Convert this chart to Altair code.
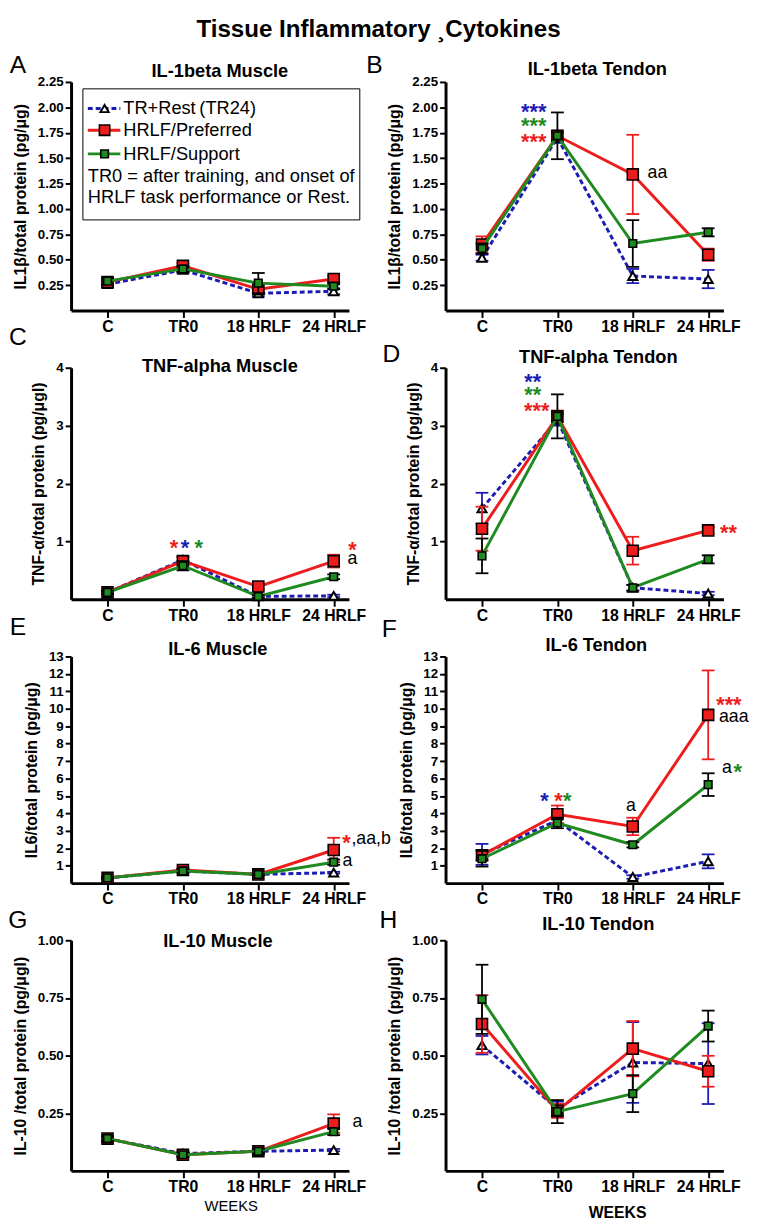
import altair as alt
import pandas as pd

TIMES = ["C", "TR0", "18 HRLF", "24 HRLF"]
SERIES = ["TR+Rest\u2009(TR24)", "HRLF/Preferred", "HRLF/Support"]
KEYS = ["tr24", "pref", "supp"]

# ---- A: IL-1beta Muscle
A_TR24 = [0.26, 0.40, 0.17, 0.19]
A_TR24_SEM = [0.03, 0.03, 0.03, 0.03]
A_PREF = [0.28, 0.44, 0.21, 0.31]
A_PREF_SEM = [0.03, 0.03, 0.04, 0.03]
A_SUPP = [0.29, 0.41, 0.27, 0.24]
A_SUPP_SEM = [0.03, 0.03, 0.10, 0.03]

# ---- B: IL-1beta Tendon
B_TR24 = [0.52, 1.70, 0.34, 0.31]
B_TR24_SEM = [0.03, 0.05, 0.07, 0.09]
B_PREF = [0.65, 1.72, 1.34, 0.55]
B_PREF_SEM = [0.08, 0.05, 0.39, 0.06]
B_SUPP = [0.61, 1.72, 0.66, 0.77]
B_SUPP_SEM = [0.05, 0.23, 0.23, 0.04]

# ---- C: TNF-alpha Muscle
C_TR24 = [0.12, 0.68, 0.05, 0.06]
C_TR24_SEM = [0.02, 0.05, 0.02, 0.02]
C_PREF = [0.12, 0.66, 0.22, 0.66]
C_PREF_SEM = [0.03, 0.07, 0.05, 0.11]
C_SUPP = [0.12, 0.58, 0.05, 0.39]
C_SUPP_SEM = [0.03, 0.08, 0.02, 0.04]

# ---- D: TNF-alpha Tendon
D_TR24 = [1.57, 3.10, 0.20, 0.10]
D_TR24_SEM = [0.27, 0.10, 0.05, 0.03]
D_PREF = [1.22, 3.16, 0.84, 1.19]
D_PREF_SEM = [0.38, 0.10, 0.24, 0.06]
D_SUPP = [0.75, 3.16, 0.20, 0.69]
D_SUPP_SEM = [0.30, 0.38, 0.05, 0.07]

# ---- E: IL-6 Muscle
E_TR24 = [0.30, 0.70, 0.50, 0.60]
E_TR24_SEM = [0.05, 0.05, 0.05, 0.05]
E_PREF = [0.30, 0.75, 0.50, 1.90]
E_PREF_SEM = [0.05, 0.10, 0.05, 0.70]
E_SUPP = [0.30, 0.70, 0.50, 1.20]
E_SUPP_SEM = [0.05, 0.10, 0.05, 0.15]

# ---- F: IL-6 Tendon
F_TR24 = [1.65, 3.60, 0.35, 1.25]
F_TR24_SEM = [0.60, 0.30, 0.10, 0.40]
F_PREF = [1.60, 3.95, 3.25, 9.65]
F_PREF_SEM = [0.30, 0.50, 0.50, 2.55]
F_SUPP = [1.40, 3.45, 2.20, 5.65]
F_SUPP_SEM = [0.45, 0.30, 0.15, 0.65]

# ---- G: IL-10 Muscle
G_TR24 = [0.14, 0.075, 0.085, 0.09]
G_TR24_SEM = [0.01, 0.01, 0.01, 0.005]
G_PREF = [0.14, 0.07, 0.085, 0.205]
G_PREF_SEM = [0.01, 0.01, 0.01, 0.04]
G_SUPP = [0.14, 0.07, 0.085, 0.17]
G_SUPP_SEM = [0.01, 0.01, 0.01, 0.015]

# ---- H: IL-10 Tendon
H_TR24 = [0.545, 0.27, 0.47, 0.465]
H_TR24_SEM = [0.04, 0.03, 0.175, 0.175]
H_PREF = [0.637, 0.26, 0.53, 0.432]
H_PREF_SEM = [0.125, 0.03, 0.12, 0.067]
H_SUPP = [0.744, 0.257, 0.335, 0.628]
H_SUPP_SEM = [0.15, 0.05, 0.08, 0.067]

# significance annotations: (time, value, text, colour key)
B_NOTES = [("TR0", 2.00, "***", "tr24"), ("TR0", 1.86, "***", "supp"),
           ("TR0", 1.71, "***", "pref"), ("18 HRLF", 1.35, "aa", "k")]
C_NOTES = [("TR0", 0.97, "*", "pref"), ("TR0", 0.97, "*", "tr24"),
           ("TR0", 0.97, "*", "supp"), ("24 HRLF", 0.94, "*", "pref"),
           ("24 HRLF", 0.70, "a", "k")]
D_NOTES = [("TR0", 3.84, "**", "tr24"), ("TR0", 3.61, "**", "supp"),
           ("TR0", 3.33, "***", "pref"), ("24 HRLF", 1.23, "**", "pref")]
E_NOTES = [("24 HRLF", 2.55, "*", "pref"), ("24 HRLF", 2.50, ",aa,b", "k"),
           ("24 HRLF", 1.25, "a", "k")]
F_NOTES = [("TR0", 5.0, "*", "tr24"), ("TR0", 5.0, "*", "pref"),
           ("TR0", 5.0, "*", "supp"), ("18 HRLF", 4.4, "a", "k"),
           ("24 HRLF", 10.5, "***", "pref"), ("24 HRLF", 9.55, "aaa", "k"),
           ("24 HRLF", 6.6, "a", "k"), ("24 HRLF", 6.65, "*", "supp")]
G_NOTES = [("24 HRLF", 0.21, "a", "k")]
H_NOTES = []

# pixel offsets / alignment of the annotations (style, kept apart from data)
B_NOTE_POS = [(-24, "center"), (-24, "center"), (-24, "center"), (15, "left")]
C_NOTE_POS = [(-9, "center"), (2, "center"), (16, "center"), (19, "center"), (14, "left")]
D_NOTE_POS = [(-25, "center"), (-25, "center"), (-21, "center"), (12, "left")]
E_NOTE_POS = [(13, "center"), (18, "left"), (9, "left")]
F_NOTE_POS = [(-13, "center"), (1, "center"), (10, "center"), (-2, "center"),
              (21, "center"), (11, "left"), (14, "left"), (30, "center")]
G_NOTE_POS = [(19, "left")]
H_NOTE_POS = []

FONT = "Liberation Sans"
BLUE = "#1c1cb4"
RED = "#ee1d1d"
GREEN = "#1f8a1f"
LINE_COLOR = {"tr24": BLUE, "pref": RED, "supp": GREEN}
ERR_COLOR = {"tr24": BLUE, "pref": RED, "supp": "black"}
NOTE_COLOR = {"tr24": BLUE, "pref": RED, "supp": GREEN, "k": "black"}

PANEL_W = 282


def text_layer(txt, x, y, **kw):
    return alt.Chart(pd.DataFrame({"txt": [txt]})).mark_text(font=FONT, **kw).encode(
        x=alt.value(x), y=alt.value(y), text="txt:N")


def make_panel(letter, title, ytitle, ymax, ticks, fmt, height, data, notes, note_pos,
               title_xy, letter_xy, xtitle=None, legend=False, main_title=False):
    rows = []
    for key, name, (means, sems) in zip(KEYS, SERIES, data):
        for t, m, s in zip(TIMES, means, sems):
            rows.append({"key": key, "series": name, "time": t, "mean": m,
                         "lo": max(m - s, 0), "hi": m + s})
    df = pd.DataFrame(rows)

    xscale = alt.Scale(type="point", padding=0.343, align=0.705)
    if xtitle:
        xaxis = alt.Axis(title=xtitle[0], titleX=xtitle[1], titleY=xtitle[2],
                         titleBaseline="middle", titleFontWeight=xtitle[3],
                         titleFontSize=xtitle[4], titleAngle=0)
    else:
        xaxis = alt.Axis(title=None)
    yscale = alt.Scale(domain=[0, ymax], nice=False, zero=True)
    yaxis = alt.Axis(values=ticks, format=fmt, labelFlush=False)

    def X():
        return alt.X("time:N", sort=TIMES, scale=xscale, axis=xaxis)

    def Y(field):
        return alt.Y(f"{field}:Q", scale=yscale, axis=yaxis, title=ytitle)

    layers = []
    for key in KEYS:
        sdf = df[df.key == key]
        lc = LINE_COLOR[key]
        ec = ERR_COLOR[key]
        if key == "tr24":
            line = alt.Chart(sdf).mark_line(color=lc, strokeWidth=3, strokeDash=[5, 3])
        else:
            line = alt.Chart(sdf).mark_line(color=lc, strokeWidth=3)
        layers.append(line.encode(x=X(), y=Y("mean")))
        layers.append(alt.Chart(sdf).mark_rule(color=ec, strokeWidth=1.8).encode(
            x=X(), y=Y("lo"), y2="hi:Q"))
        for f in ["lo", "hi"]:
            layers.append(alt.Chart(sdf).mark_tick(color=ec, thickness=1.8, size=13,
                                                   opacity=1).encode(x=X(), y=Y(f)))
        if key == "tr24":
            pt = alt.Chart(sdf).mark_point(shape="triangle-up", filled=True, fill="white",
                                           stroke="black", strokeWidth=2, size=85, opacity=1)
        elif key == "pref":
            pt = alt.Chart(sdf).mark_point(shape="square", filled=True, fill=RED,
                                           stroke="black", strokeWidth=1.6, size=125, opacity=1)
        else:
            pt = alt.Chart(sdf).mark_point(shape="square", filled=True, fill=GREEN,
                                           stroke="black", strokeWidth=1.6, size=60, opacity=1)
        layers.append(pt.encode(x=X(), y=Y("mean")))

    for (t, v, s, ck), (dx, al) in zip(notes, note_pos):
        star = "*" in s
        fs = 22 if star else 18
        dy = 12 if star else 5
        ndf = pd.DataFrame({"time": [t], "val": [v], "txt": [s]})
        layers.append(alt.Chart(ndf).mark_text(
            font=FONT, fontSize=fs, fontWeight="bold" if star else "normal",
            color=NOTE_COLOR[ck], dx=dx, dy=dy, align=al, baseline="alphabetic").encode(
            x=X(), y=Y("val"), text="txt:N"))

    # panel title and letter
    layers.append(text_layer(title, title_xy[0], title_xy[1], fontSize=18.5,
                             fontWeight="bold", align="center", baseline="middle"))
    layers.append(text_layer(letter, letter_xy[0], letter_xy[1], fontSize=25,
                             align="center", baseline="middle"))

    if main_title:
        layers.append(text_layer("Tissue Inflammatory \u00b8Cytokines", 312, -53,
                                 fontSize=24.5, fontWeight="bold", align="center",
                                 baseline="middle"))

    if legend:
        layers.append(alt.Chart(pd.DataFrame({"a": [0]})).mark_rect(
            fill="white", stroke="black", strokeWidth=1).encode(
            x=alt.value(12), x2=alt.value(293), y=alt.value(7), y2=alt.value(140)))
        row_y = [27, 49, 73]
        for key, name, ry in zip(KEYS, SERIES, row_y):
            lc = LINE_COLOR[key]
            one = pd.DataFrame({"txt": [name]})
            if key == "tr24":
                seg = alt.Chart(one).mark_rule(color=lc, strokeWidth=3, strokeDash=[5, 3])
                mk = alt.Chart(one).mark_point(shape="triangle-up", filled=True, fill="white",
                                               stroke="black", strokeWidth=2, size=70, opacity=1)
            elif key == "pref":
                seg = alt.Chart(one).mark_rule(color=lc, strokeWidth=3)
                mk = alt.Chart(one).mark_point(shape="square", filled=True, fill=RED,
                                               stroke="black", strokeWidth=1.6, size=110, opacity=1)
            else:
                seg = alt.Chart(one).mark_rule(color=lc, strokeWidth=3)
                mk = alt.Chart(one).mark_point(shape="square", filled=True, fill=GREEN,
                                               stroke="black", strokeWidth=1.6, size=60, opacity=1)
            layers.append(seg.encode(x=alt.value(17), x2=alt.value(50), y=alt.value(ry)))
            layers.append(mk.encode(x=alt.value(34), y=alt.value(ry)))
            layers.append(alt.Chart(one).mark_text(font=FONT, fontSize=18.5, align="left",
                                                   baseline="middle").encode(
                x=alt.value(53), y=alt.value(ry), text="txt:N"))
        layers.append(text_layer("TR0 = after training, and onset of", 17, 96,
                                 fontSize=18.5, align="left", baseline="middle"))
        layers.append(text_layer("HRLF task performance or Rest.", 17, 117,
                                 fontSize=18.5, align="left", baseline="middle"))

    return alt.layer(*layers).properties(width=PANEL_W, height=height)


T2 = [0.25, 0.5, 0.75, 1.0, 1.25, 1.5, 1.75, 2.0, 2.25]
T4 = [1, 2, 3, 4]
T13 = list(range(1, 14))
T1 = [0.25, 0.5, 0.75, 1.0]

pA = make_panel("A", "IL-1beta Muscle", "IL1\u03b2/total protein (pg/\u03bcg)", 2.25, T2, ".2f", 232,
                [(A_TR24, A_TR24_SEM), (A_PREF, A_PREF_SEM), (A_SUPP, A_SUPP_SEM)],
                [], [], (151, -11), (-54, -17), legend=True, main_title=True)
pB = make_panel("B", "IL-1beta Tendon", "IL1\u03b2/total protein (pg/\u03bcg)", 2.25, T2, ".2f", 232,
                [(B_TR24, B_TR24_SEM), (B_PREF, B_PREF_SEM), (B_SUPP, B_SUPP_SEM)],
                B_NOTES, B_NOTE_POS, (154, -13), (-72, -17))
pC = make_panel("C", "TNF-alpha Muscle", "TNF-\u03b1/total protein (pg/\u03bcgl)", 4, T4, "d", 235,
                [(C_TR24, C_TR24_SEM), (C_PREF, C_PREF_SEM), (C_SUPP, C_SUPP_SEM)],
                C_NOTES, C_NOTE_POS, (151, -2), (-54, -31))
pD = make_panel("D", "TNF-alpha Tendon", "TNF-\u03b1/total protein (pg/\u03bcgl)", 4, T4, "d", 235,
                [(D_TR24, D_TR24_SEM), (D_PREF, D_PREF_SEM), (D_SUPP, D_SUPP_SEM)],
                D_NOTES, D_NOTE_POS, (155, -11), (-55, -14))
pE = make_panel("E", "IL-6 Muscle", "IL6/total protein (pg/\u03bcg)", 13, T13, "d", 230,
                [(E_TR24, E_TR24_SEM), (E_PREF, E_PREF_SEM), (E_SUPP, E_SUPP_SEM)],
                E_NOTES, E_NOTE_POS, (149, -7), (-54, -30))
pF = make_panel("F", "IL-6  Tendon", "IL6/total protein (pg/\u03bcg)", 13, T13, "d", 230,
                [(F_TR24, F_TR24_SEM), (F_PREF, F_PREF_SEM), (F_SUPP, F_SUPP_SEM)],
                F_NOTES, F_NOTE_POS, (153, -12), (-57, -28))
pG = make_panel("G", "IL-10 Muscle", "IL-10 /total protein (pg/\u03bcgl)", 1.0, T1, ".2f", 234,
                [(G_TR24, G_TR24_SEM), (G_PREF, G_PREF_SEM), (G_SUPP, G_SUPP_SEM)],
                G_NOTES, G_NOTE_POS, (149, 1), (-54, -20),
                xtitle=("WEEKS", 162, 35, "normal", 15))
pH = make_panel("H", "IL-10 Tendon", "IL-10 /total protein (pg/\u03bcgl)", 1.0, T1, ".2f", 234,
                [(H_TR24, H_TR24_SEM), (H_PREF, H_PREF_SEM), (H_SUPP, H_SUPP_SEM)],
                H_NOTES, H_NOTE_POS, (155, -16), (-58, -20),
                xtitle=("WEEKS", 174, 42, "bold", 16))

chart = alt.concat(pA, pB, pC, pD, pE, pF, pG, pH, columns=2,
                   spacing={"row": 58, "column": 98}, bounds="flush").properties(
    padding={"left": 0, "top": 0, "right": 4, "bottom": 4},
    background="white"
).configure_view(stroke=None).configure_axis(
    domainColor="black", domainWidth=3, tickColor="black", labelColor="black",
    titleColor="black", labelFont=FONT, titleFont=FONT, grid=False
).configure_axisY(
    labelFontSize=13.5, labelFontWeight="bold", tickSize=6, tickWidth=2,
    labelPadding=2, titleFontSize=16, titleFontWeight="bold", titlePadding=9
).configure_axisX(
    labelFontSize=16, labelFontWeight="bold", labelAngle=0, labelPadding=1,
    tickSize=7, tickWidth=2, labelOverlap=False
)

chart.save("out.html", embed_options={"renderer": "svg", "actions": False})
